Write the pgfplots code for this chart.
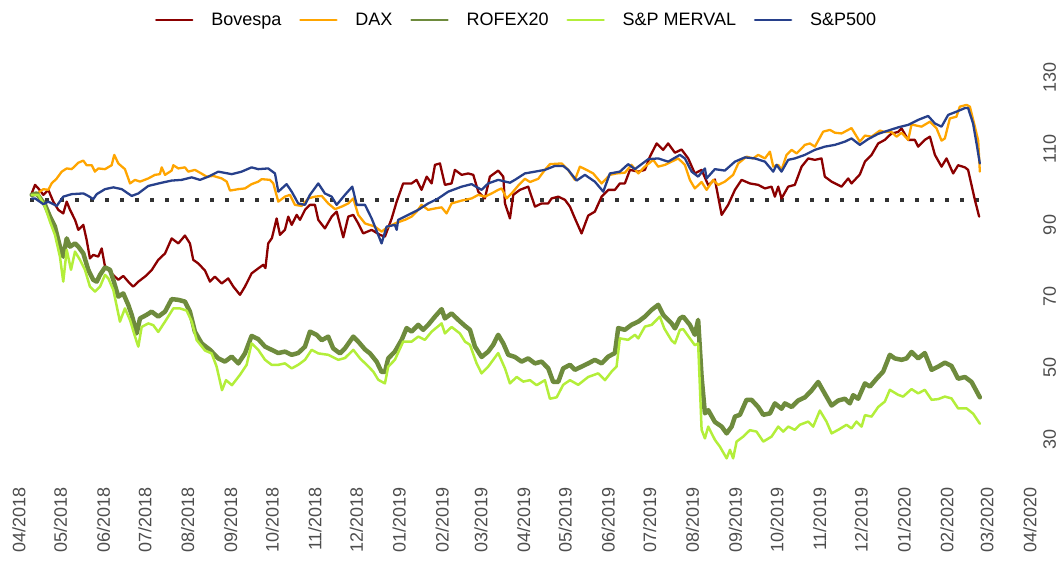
\documentclass[border=0pt]{standalone}
\usepackage{fontspec}
\setmainfont{Liberation Sans}
\usepackage{pgfplots}
\pgfplotsset{compat=1.18}
\definecolor{cBov}{HTML}{8B0000}
\definecolor{cDAX}{HTML}{FFA500}
\definecolor{cROF}{HTML}{6E8B3D}
\definecolor{cMER}{HTML}{B3EE3A}
\definecolor{cSP}{HTML}{27408B}
\definecolor{ctick}{HTML}{4D4D4D}
\begin{document}
\begin{tikzpicture}
\begin{axis}[
  at={(12pt,-483pt)}, anchor=south west,
  scale only axis, width=1028pt, height=404.9pt,
  xmin=-5.06, xmax=738.3, ymin=20.6, ymax=134,
  axis line style={draw=none}, major tick length=0pt,
  clip=false,
  /pgf/number format/assume math mode=true,
  tick label style={font=\fontsize{18}{21}\selectfont, text=ctick},
  xtick={0,30,61,91,122,153,183,214,244,275,306,334,365,395,426,456,487,518,548,579,609,640,671,700,731},
  xticklabels={04/2018,05/2018,06/2018,07/2018,08/2018,09/2018,10/2018,11/2018,12/2018,01/2019,02/2019,03/2019,04/2019,05/2019,06/2019,07/2019,08/2019,09/2019,10/2019,11/2019,12/2019,01/2020,02/2020,03/2020,04/2020},
  xticklabel style={rotate=90, anchor=east, inner sep=0pt},
  xticklabel shift=4pt,
  ytick={30,50,70,90,110,130},
  yticklabel pos=right,
  yticklabel style={rotate=90, anchor=north west, inner sep=0pt},
  yticklabel shift=3pt,
  legend columns=5,
  legend cell align=left,
  legend image code/.code={\draw[#1, line width=2.5pt] (0pt,0pt) -- (36pt,0pt);},
  legend style={at={(0.1391,1.1435)}, anchor=west, draw=none, fill=none,
    inner sep=0pt, outer sep=0pt, font=\fontsize{18}{21}\selectfont,
    nodes={inner sep=0pt},
    /tikz/every even column/.append style={column sep=17.8pt},
    /tikz/every odd column/.append style={column sep=17.8pt}},
  every axis plot/.append style={line join=round, line cap=round},
]
\addplot[forget plot, color=black!80, line width=4pt, line cap=butt, dash pattern=on 4pt off 11pt] coordinates {(8,100) (696,100)};

\addplot[cBov, line width=2.3pt] coordinates {
(9.2,101.7)(11.6,104.1)(14,103.1)(17.6,101.3)(21.2,102.7)(24.8,99.4)(28.4,97.1)(32,96.1)(34.5,99.4)(36.9,97.1)(40.5,94.3)(42.9,91.5)(46.5,92.9)(48.9,88.7)(51.3,83.5)(53.7,84.5)(57.3,84)(59.8,86.3)(62.2,81.2)(67,79.3)(71.8,77.5)(75.4,78.6)(79,77)(82.6,75.6)(86.3,77)(91.1,78.4)(95.9,80.2)(100.7,83.1)(105.6,84.9)(110.4,89.1)(115.2,87.7)(120,89.9)(123.6,87.7)(126,83.1)(129.6,82.1)(134.5,80.1)(138.1,77)(141.7,78.4)(146.6,76.5)(151.3,77.9)(155,75.6)(159.8,73.3)(163.4,75.6)(168.2,79.3)(173,80.7)(176.6,81.7)(178.2,80.8)(180.2,87.7)(182.9,89.2)(186.3,94.7)(188.7,90.1)(192.3,91.5)(194.7,95.2)(197.2,92.9)(200.8,95.7)(203.2,94.3)(206.8,97.1)(210.4,98.5)(214,98.5)(216.4,94.3)(221.2,91.9)(226.1,95.2)(229.7,96.6)(234.5,89.4)(238.1,95.2)(241.7,95.7)(245.3,93.3)(248.9,90.5)(255,91.5)(261,90.1)(264.6,89.6)(269.5,94.7)(273.1,99.4)(277.8,104.5)(283.9,104.5)(287.5,105.5)(291.1,102.7)(294.8,106.4)(298.4,104.5)(300.8,109.7)(304.4,110.1)(308,104.1)(312.8,104.5)(315.2,108.3)(320.1,106.9)(324.8,107.3)(328.5,106.9)(332.1,102.2)(336.9,100.3)(340.5,106.4)(346.5,108.1)(350.2,106.4)(351.4,98.9)(355,94.7)(357.4,101.3)(362.2,102.7)(368.2,103.6)(373.1,98)(377.9,98.9)(382.7,98.9)(385.1,100.3)(390,100.8)(394.8,99.9)(398.4,98)(402,94.7)(406.8,90.5)(411.6,95.5)(416.4,96.6)(421.3,100.8)(426.1,102.7)(430.9,102.7)(434.5,104.5)(438.1,104.5)(441.8,108.3)(447.8,107.8)(452.6,108.3)(456.2,112)(461.1,115.7)(465.8,113.9)(469.4,115.7)(474.3,113.1)(479.1,114)(483.9,111.5)(488.7,107.3)(493.6,108.3)(498.4,104)(503.2,105.6)(508.1,95.7)(512.8,98.5)(517.7,102.7)(522.5,105.5)(528.5,104.5)(534.5,104.1)(539.4,103.1)(544.2,103.6)(546.6,100.8)(549,103.6)(551.4,100.3)(556.2,103.6)(561,104.1)(565.9,109.2)(570.7,111.5)(575.5,111.1)(580.3,111.5)(582.7,106.4)(587.6,105)(594.8,103.6)(599.6,105.9)(602,104.5)(608,107)(611.7,110.6)(616.5,112.5)(621.3,115.7)(626.1,116.7)(630.9,118.5)(635.7,118.9)(638.2,119.9)(643,116.7)(647.8,116.7)(650.2,114.8)(655,116.7)(658.7,117.6)(662.3,112.5)(667.1,109.2)(670.7,111.5)(675.5,107.3)(679.1,109.6)(684,109)(686.3,108.3)(691.2,99.9)(694.3,95.2)};
\addlegendentry{Bovespa}

\addplot[cDAX, line width=2.3pt] coordinates {
(9.2,101.3)(14,101.9)(17.6,102.9)(21.2,102.7)(23.6,104.5)(27.3,105.9)(30.9,107.8)(34.5,108.7)(38.1,108.5)(42.9,110.3)(46.5,110.9)(48.9,109.6)(52.6,109.6)(54.9,107.8)(57.3,108.7)(62.2,108.5)(67,109.6)(68.9,112.5)(71.8,110.1)(76.6,108.5)(80.3,104.5)(83.9,105.5)(87.5,105)(93.5,105.9)(98.3,106.9)(101.9,107.1)(103.2,109)(105.6,106.9)(110.4,108.1)(111.6,109.6)(115.2,108.7)(120,109)(122.4,107.8)(127.2,108.3)(130.9,107.5)(135.7,106.4)(140.5,106.6)(146.6,105.9)(150.2,105)(152.6,102.5)(158.6,102.9)(163.4,103.1)(168.2,104.3)(173,105)(175.5,105.7)(181.5,105.5)(183.9,104.5)(187.5,99.4)(192.3,100.8)(195.9,101.3)(199.5,98.5)(204.4,98.2)(209.2,100.3)(214,100.8)(218.9,101)(223.6,98.9)(228.5,97.3)(233.3,98)(238.1,98.9)(241.7,100.3)(245.3,95.7)(250.2,93.3)(257.4,92.4)(262.2,91)(267,92.4)(273.1,93.5)(279.1,94.3)(283.9,95.2)(287.5,96.6)(291.1,98.5)(295.9,97.1)(300.8,97.5)(305.6,97.8)(309.2,96.1)(312.8,98.9)(320.1,99.7)(327.3,100.3)(332.1,101.3)(336.9,100.8)(341.8,101.7)(346.5,102.7)(349,103.1)(352.6,100.3)(356.2,101.7)(361,103.9)(365.8,105.8)(369.5,104.9)(375.5,105.8)(380.3,108.3)(383.9,109.9)(392.4,110.1)(397.1,108.3)(402,105.5)(405.6,109.2)(410.4,108.3)(415.2,107.3)(421.3,104.5)(427.3,106.9)(432.1,107.3)(438.1,107.5)(442.9,109.7)(447.8,107.3)(452.6,109.2)(458.6,111.1)(462.2,109.2)(467.1,109.7)(471.9,110.6)(476.7,111.5)(481.5,109.7)(485.1,105.5)(488.7,103.1)(493.6,104.9)(497.2,102.7)(502,105.5)(505.6,104.1)(510.4,105)(516.4,106.9)(520.1,110.1)(526.1,112)(530.9,111.5)(534.5,112.5)(539.4,111.5)(543,113.4)(545.4,109.2)(549,109.7)(551.4,108.3)(555,112.5)(558.7,113.9)(562.3,112.9)(565.9,114.3)(568.3,115.3)(571.9,115.7)(575.5,114.8)(581.5,119)(586.4,119.5)(590,118.7)(594.8,118.5)(602,120)(608,116.2)(611.7,117.9)(616.5,117.6)(622.5,119.3)(626.1,118.9)(630.9,118.9)(634.6,117.6)(638.2,118.7)(643,116.7)(645.4,121)(652.6,120.4)(658.7,121.8)(663.5,119.9)(667.1,116.5)(669.5,117.1)(673.1,122.7)(677.9,123.2)(680.3,126)(685.2,126.5)(687.6,126)(691.2,120.4)(693.6,116.5)(694.8,107.8)};
\addlegendentry{DAX}

\addplot[cROF, line width=4.5pt] coordinates {
(9.2,101.3)(12.8,101.7)(18.8,98.5)(22.4,95.2)(26,92.4)(29.6,86.8)(32,84)(34.5,89.1)(36.9,86.8)(40.5,87.7)(42.9,86.8)(46.5,84.9)(50.1,80.3)(53.7,77.5)(56.2,77)(58.6,78.9)(62.2,81)(65.8,80.3)(68.2,77.5)(71.8,72.8)(75.4,73.7)(79,70.5)(81.5,67.7)(85.1,62.5)(87.5,66.7)(92.3,67.7)(95.9,68.6)(100.7,67.2)(105.6,68.6)(110.4,72.1)(115.2,71.9)(120,71.4)(123.6,68.6)(127.2,63)(132.1,59.7)(138.1,57.9)(144.1,55.5)(148.9,54.6)(153.8,56)(158.6,54.1)(163.4,56.9)(168.2,61.8)(173,60.9)(177.9,58.8)(182.7,57.9)(187.5,57)(192.3,57.4)(197.2,56.5)(201.9,57)(206.8,58.8)(210.4,63)(215.2,62.1)(218.9,60.6)(223.6,61.6)(227.2,58.3)(232.1,56.9)(235.7,58.3)(241.7,61.6)(245.3,60.2)(250.2,58)(253.8,56.9)(258.6,54.6)(262.2,51.7)(264.6,51.7)(267,55.5)(271.8,57.4)(276.7,60.7)(280.3,64)(283.9,63)(288.7,64.9)(292.3,63.5)(295.9,64.9)(300.8,67.2)(305.6,69.3)(308,66.7)(312.8,68.1)(317.6,66.3)(322.5,64.6)(326.1,63.5)(329.7,58.8)(334.5,55.9)(339.3,57.4)(342.9,59.3)(346.5,62.1)(350.2,59.7)(353.8,56.5)(358.6,55.9)(363.4,54.6)(368.2,55.5)(373.1,54.1)(377.9,54.6)(382.7,52.7)(386.3,48.9)(389.9,48.9)(393.5,52.7)(398.4,53.7)(402,52.3)(406.8,53.2)(411.6,54.1)(416.4,55.1)(421.3,54.1)(426.1,56)(430.9,57)(433.3,64)(438.1,63.5)(442.9,64.9)(447.8,65.8)(452.6,67.2)(457.5,69.1)(462.2,70.5)(465.8,67.7)(471.9,65.3)(474.3,63.9)(477.9,66.7)(480.3,67.2)(485.1,64.9)(488.7,62.1)(491.1,66.3)(493.6,50.3)(496,40.1)(498.4,41)(503.2,37.7)(508.1,36.4)(511.7,34.5)(515.3,36.4)(517.7,39.2)(521.3,39.7)(526.1,43.9)(529.7,43.9)(534.5,41.9)(538.2,39.7)(543,40.1)(546.6,42.9)(551.4,41.4)(553.8,42.9)(558.7,41.9)(563.4,43.7)(568.3,44.6)(573.1,46.5)(577.9,48.9)(582.7,45.6)(587.6,42.3)(592.4,43.7)(597.2,44.2)(600.8,42.9)(603.2,45.2)(606.8,44.2)(611.7,48.5)(615.3,47.6)(620.1,49.8)(624.9,51.8)(629.7,56.5)(633.3,55.5)(638.2,55.1)(641.8,55.5)(645.4,57.3)(650.2,55.5)(655,57)(659.9,52.3)(664.7,53.2)(669.5,54.3)(674.3,53.4)(679.1,49.8)(684,50.3)(688.8,48.9)(694.8,44.6)};
\addlegendentry{ROFEX20}

\addplot[cMER, line width=2.5pt] coordinates {
(9.2,101.3)(14,101.3)(18.8,98)(22.4,93.8)(26,90.1)(29.6,84)(32,77)(34.5,85.9)(37.6,80.3)(40.5,85.4)(44.1,83.1)(47.7,80.3)(51.3,75.6)(54.9,74.2)(58.6,75.6)(62.2,78.9)(64.6,77.9)(68.2,74.7)(73,65.8)(76.6,69.5)(80.3,66.2)(83.9,61.6)(86.3,58.8)(88.7,64.3)(93.5,65.3)(97.1,64.8)(100.7,62.9)(105.6,65.8)(111.6,69.5)(116.4,69.5)(121.2,68.9)(124.9,65.8)(128.5,60.6)(134.5,57.7)(139.3,56.9)(142.9,53.2)(146.8,46.6)(149.7,49.4)(154,48)(159.8,50.9)(164.6,53.7)(168.2,59.7)(173,57.9)(177.9,55.1)(182.7,53.7)(187.5,53.7)(192.3,54.1)(197.2,52.7)(201.9,53.7)(206.8,55.1)(211.6,57.9)(216.4,56.9)(223.6,56.5)(230.9,55.1)(235.7,55.6)(241.7,57.9)(246.6,55.5)(251.4,53.7)(256.2,51.8)(259.8,49.5)(264.6,48.5)(267,53.2)(271.8,55.1)(277.8,60.2)(283.9,60.2)(288.7,61.6)(293.5,60.7)(298.4,63)(305.6,65.3)(308,62.5)(312.8,64.3)(318.8,62.5)(322.5,60.2)(326.1,59.3)(330.9,54.1)(334.5,51.3)(339.3,53.2)(346.5,57)(351.4,52.7)(355,48.5)(359.9,50.3)(364.6,49)(369.5,49.4)(374.3,48)(380.3,49.4)(383.9,44.2)(388.8,44.6)(393.5,48.1)(398.4,49.4)(404.4,48.1)(411.6,50.3)(418.8,51.3)(423.7,49.4)(428.5,51.8)(432.1,53.2)(434.5,61.1)(440.5,60.7)(445.4,62.1)(447.8,61.1)(452.6,64.4)(457.5,64.9)(463.4,67.2)(466.6,63.9)(471.9,60.5)(474.3,59.7)(477.9,63.5)(480.3,63.7)(485.1,61.1)(488.7,59.2)(491.1,59.7)(493.6,35.5)(496,33.1)(498.4,36.4)(503.2,32.7)(506.8,30.8)(511.7,27.5)(514.1,29.9)(516.4,27.5)(518.9,32.2)(523.7,33.6)(528.5,35.4)(533.3,35)(538.2,32.2)(544.2,33.6)(549,36.4)(552.6,35)(556.2,36.4)(561,35.5)(564.6,36.9)(570.7,37.8)(574.3,36.4)(579.1,40.9)(583.9,37.8)(587.6,34.5)(592.4,35.5)(598.4,36.9)(602,35.9)(605.6,37.8)(609.3,36.4)(611.7,39.6)(616.5,39.2)(621.3,41.9)(626.1,43.4)(629.7,46.7)(635.7,45.3)(639.3,44.8)(645.4,46.9)(650.2,45.7)(655,46.7)(659.9,43.9)(664.7,44.1)(669.5,44.8)(674.3,44.3)(679.1,41.5)(685.2,41.5)(690,40)(694.8,37.2)};
\addlegendentry{S\&P MERVAL}

\addplot[cSP, line width=2.3pt] coordinates {
(9.2,100.3)(11.6,100.3)(17.6,98.7)(21.2,99.4)(27.3,98.2)(32,100.8)(38.1,101.5)(46.5,101.7)(50.1,101)(53.7,100.1)(56.2,101.5)(62.2,102.9)(68.2,103.4)(74.3,102.9)(81.5,101)(86.3,101.7)(93.5,103.8)(103.2,104.7)(110.4,105.3)(117.6,105.5)(124.9,106.2)(130.9,105.5)(136.9,106.4)(144.1,107.8)(153.8,107.1)(161,107.8)(168.2,109)(173,108.5)(180.2,108.7)(185.1,107.3)(187.5,102.2)(193.5,104.3)(197.2,102.2)(201.9,98.9)(206.8,98.5)(210.4,101.3)(216.4,104.5)(221.2,101.7)(226.1,100.8)(229.7,98.5)(235.7,101.3)(241,103.6)(244.2,98.5)(250.2,98.5)(255,94.7)(262.2,87.7)(265.8,92.4)(271.8,92.9)(273.1,91.5)(274.2,94.3)(281.5,95.7)(288.7,97.1)(295.9,98.9)(303.2,100.3)(310.4,102.2)(320.1,103.6)(327.3,104.3)(334.5,102.7)(339.3,104.5)(346.5,105.5)(355,104.7)(358.6,105.5)(365.8,107.3)(373.1,107.8)(380.3,108.3)(387.5,109.4)(393.5,109.4)(397.1,108.3)(403.2,105.3)(409.2,106.9)(416.4,105)(422.5,102.2)(427.3,107.3)(434.5,107.8)(440.5,109.9)(445.4,108.5)(455,111.3)(462.2,111.5)(469.4,110.6)(477.9,112.5)(481.5,111.5)(486.4,107.8)(491.1,106.4)(496,108.7)(497.2,105.9)(503.2,108.5)(510.4,108.1)(517.7,110.6)(524.9,111.8)(532.1,111.5)(539.4,110.6)(545.4,107.8)(547.8,109.7)(551.4,107.8)(556.2,111.1)(561,111.5)(568.3,112.5)(575.5,113.9)(582.7,114.8)(590,115.3)(597.2,116.2)(602,117.1)(608,115.3)(614,116.9)(621.3,118.4)(628.5,119.3)(635.7,120.2)(643,120.9)(650.2,122.3)(657.4,123.4)(662.3,121.3)(667.1,120.4)(671.9,123.7)(677.9,124.6)(684,125.6)(686.3,125.6)(689.9,121.3)(692.4,115.7)(694.8,110.1)};
\addlegendentry{S\&P500}
\end{axis}
\pgfresetboundingbox
\path[use as bounding box] (0pt,0pt) rectangle (1062pt,-562pt);
\end{tikzpicture}
\end{document}
